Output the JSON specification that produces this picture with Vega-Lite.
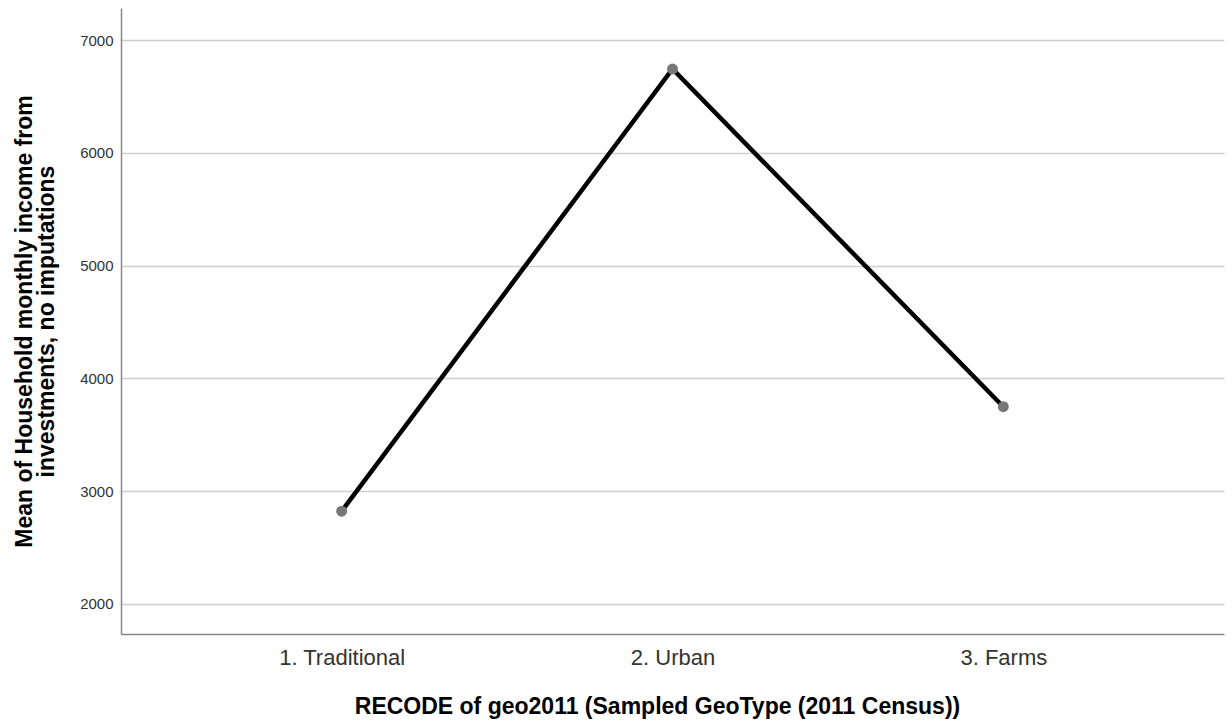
{
  "$schema": "https://vega.github.io/schema/vega-lite/v6.json",
  "autosize": {"type": "none"},
  "padding": {"left": 121, "top": 8, "right": 8, "bottom": 88},
  "width": 1103,
  "height": 626,
  "background": "white",
  "config": {
    "view": {"stroke": null},
    "font": "Liberation Sans"
  },
  "data": {
    "values": [
      {"geo": "1. Traditional", "mean": 2823},
      {"geo": "2. Urban", "mean": 6743},
      {"geo": "3. Farms", "mean": 3749}
    ]
  },
  "encoding": {
    "x": {
      "field": "geo",
      "type": "ordinal",
      "sort": null,
      "scale": {"type": "point", "padding": 0.667},
      "axis": {
        "title": "RECODE of geo2011 (Sampled GeoType (2011 Census))",
        "titleFontSize": 23,
        "titleFontWeight": "bold",
        "titleColor": "#000",
        "titlePadding": 27,
        "titleX": 536,
        "labelAngle": 0,
        "labelFontSize": 22,
        "labelColor": "#333",
        "labelPadding": 13,
        "ticks": false,
        "domainColor": "#888",
        "domainWidth": 1.5,
        "grid": false
      }
    },
    "y": {
      "field": "mean",
      "type": "quantitative",
      "scale": {"domain": [1734, 7284], "nice": false, "zero": false},
      "axis": {
        "title": ["Mean of Household monthly income from", "investments, no imputations"],
        "titleFontSize": 23,
        "titleFontWeight": "bold",
        "titleColor": "#000",
        "titlePadding": 21,
        "titleLineHeight": 22,
        "values": [2000, 3000, 4000, 5000, 6000, 7000],
        "format": "d",
        "labelFontSize": 15,
        "labelColor": "#333",
        "labelPadding": 8,
        "ticks": false,
        "domainColor": "#888",
        "domainWidth": 1.5,
        "grid": true,
        "gridColor": "#cfcfcf",
        "gridWidth": 1.5
      }
    }
  },
  "layer": [
    {
      "mark": {"type": "line", "color": "#000", "strokeWidth": 4.5}
    },
    {
      "mark": {"type": "point", "filled": true, "color": "#777", "size": 120, "opacity": 1}
    }
  ]
}
